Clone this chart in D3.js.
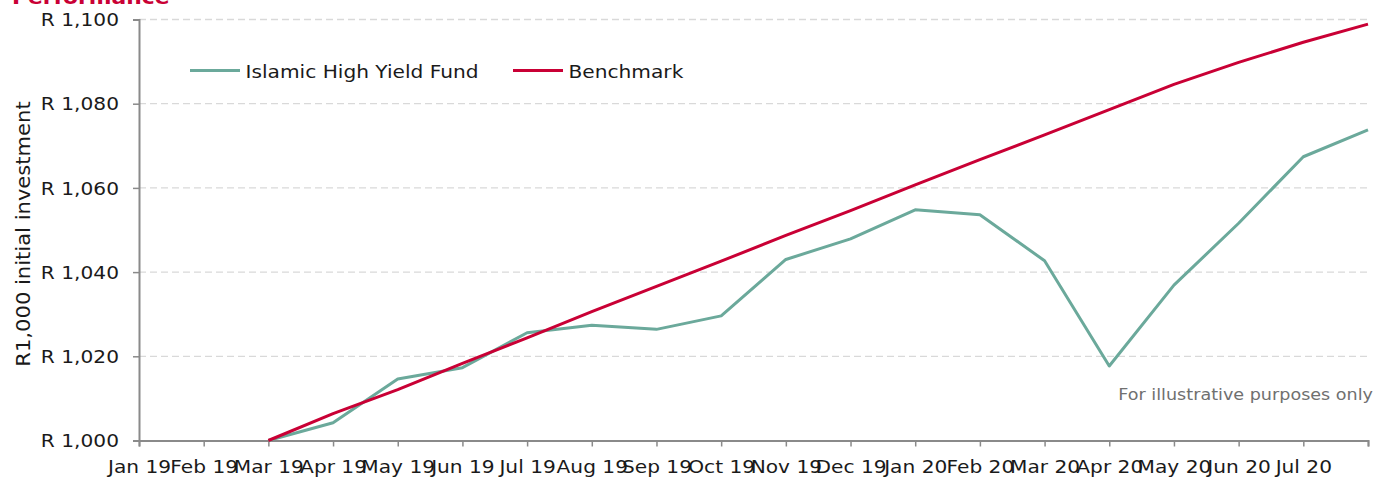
<!DOCTYPE html>
<html>
<head>
<meta charset="utf-8">
<script src="https://cdn.jsdelivr.net/npm/d3@7"></script>
<style>
  html, body { margin: 0; padding: 0; background: #fff; }
  svg { display: block; font-family: "DejaVu Sans", Verdana, sans-serif; }
</style>
</head>
<body>
<svg id="chart" width="1379" height="479"></svg>
<script>
const months = ["Jan 19","Feb 19","Mar 19","Apr 19","May 19","Jun 19","Jul 19","Aug 19","Sep 19","Oct 19","Nov 19","Dec 19","Jan 20","Feb 20","Mar 20","Apr 20","May 20","Jun 20","Jul 20","Aug 20"];
const tickLabels = ["Jan 19","Feb 19","Mar 19","Apr 19","May 19","Jun 19","Jul 19","Aug 19","Sep 19","Oct 19","Nov 19","Dec 19","Jan 20","Feb 20","Mar 20","Apr 20","May 20","Jun 20","Jul 20"];
const fund = [null,null,1000,1004.2,1014.6,1017.3,1025.6,1027.4,1026.4,1029.6,1043.0,1047.9,1054.8,1053.6,1042.7,1017.7,1036.9,1051.6,1067.4,1073.8];
const benchmark = [null,null,1000,1006.4,1012.1,1018.3,1024.4,1030.6,1036.6,1042.6,1048.7,1054.6,1060.7,1066.7,1072.6,1078.6,1084.6,1089.8,1094.6,1098.9];
const yTicks = [1000,1020,1040,1060,1080,1100];
const seriesNames = ["Islamic High Yield Fund","Benchmark"];
const seriesColors = ["#6BA99B","#C90035"];

const svg = d3.select("#chart");
const SX = 1.12;
const plotLeft = 139, plotRight = 1368, plotTop = 19.5, plotBottom = 440.5;

const x = d3.scalePoint().domain(months).range([plotLeft, plotRight]);
const y = d3.scaleLinear().domain([1000, 1100]).range([plotBottom, plotTop]);

// Title (partly clipped at top)
svg.append("text")
  .attr("transform", `translate(12,3.5) scale(${SX},1)`)
  .attr("font-size", 19.5).attr("font-weight", "bold")
  .attr("fill", "#C90035")
  .text("Performance");

// Gridlines
svg.append("g").selectAll("line")
  .data(yTicks.filter(d => d !== 1000))
  .join("line")
  .attr("x1", plotLeft).attr("x2", plotRight)
  .attr("y1", d => y(d)).attr("y2", d => y(d))
  .attr("stroke", "#d9d9d9").attr("stroke-width", 1.3)
  .attr("stroke-dasharray", "7,4");

// Y axis
const yAxis = svg.append("g")
  .attr("transform", `translate(${plotLeft},0)`)
  .call(d3.axisLeft(y).tickValues(yTicks).tickSize(6).tickFormat(d => "R " + d3.format(",")(d)));
yAxis.select(".domain").attr("stroke", "#8a8a8a").attr("stroke-width", 2);
yAxis.selectAll(".tick line").attr("stroke", "#8a8a8a").attr("stroke-width", 1.5);
yAxis.selectAll(".tick text")
  .attr("x", 0).attr("dy", "0.34em")
  .attr("transform", `translate(-20,0) scale(${SX},1)`)
  .attr("font-size", 18).attr("fill", "#1a1a1a")
  .attr("font-family", "DejaVu Sans, Verdana, sans-serif");

// X axis
const xAxis = svg.append("g")
  .attr("transform", `translate(0,${plotBottom})`)
  .call(d3.axisBottom(x).tickSize(6).tickFormat(d => tickLabels.includes(d) ? d : ""));
xAxis.select(".domain").attr("stroke", "#8a8a8a").attr("stroke-width", 2);
xAxis.selectAll(".tick line").attr("stroke", "#8a8a8a").attr("stroke-width", 1.5);
xAxis.selectAll(".tick text")
  .attr("y", 33).attr("dy", 0)
  .attr("transform", `scale(${SX},1)`)
  .attr("font-size", 18).attr("fill", "#1a1a1a")
  .attr("font-family", "DejaVu Sans, Verdana, sans-serif");

// Y axis title
svg.append("text")
  .attr("transform", `translate(29.5,234) rotate(-90) scale(1.11,1)`)
  .attr("text-anchor", "middle")
  .attr("font-size", 19).attr("fill", "#1a1a1a")
  .text("R1,000 initial investment");

// Lines
const line = d3.line()
  .defined(d => d.v !== null)
  .x(d => x(d.m)).y(d => y(d.v));
[fund, benchmark].forEach((arr, i) => {
  svg.append("path")
    .datum(months.map((m, j) => ({ m, v: arr[j] })))
    .attr("fill", "none")
    .attr("stroke", seriesColors[i])
    .attr("stroke-width", 3)
    .attr("stroke-linejoin", "round")
    .attr("d", line);
});

// Legend
const legendX = [190, 513];
seriesNames.forEach((name, i) => {
  const g = svg.append("g").attr("transform", `translate(${legendX[i]},70.5)`);
  g.append("line").attr("x1", 0).attr("x2", 50).attr("y1", 0).attr("y2", 0)
    .attr("stroke", seriesColors[i]).attr("stroke-width", 3);
  g.append("text")
    .attr("transform", `translate(55.5,7.5) scale(${SX},1)`)
    .attr("font-size", 18).attr("fill", "#1a1a1a")
    .text(name);
});

// Annotation
svg.append("text")
  .attr("transform", `translate(1373,400) scale(${SX},1)`)
  .attr("text-anchor", "end")
  .attr("font-size", 15.7).attr("fill", "#707070")
  .text("For illustrative purposes only");
</script>
</body>
</html>
